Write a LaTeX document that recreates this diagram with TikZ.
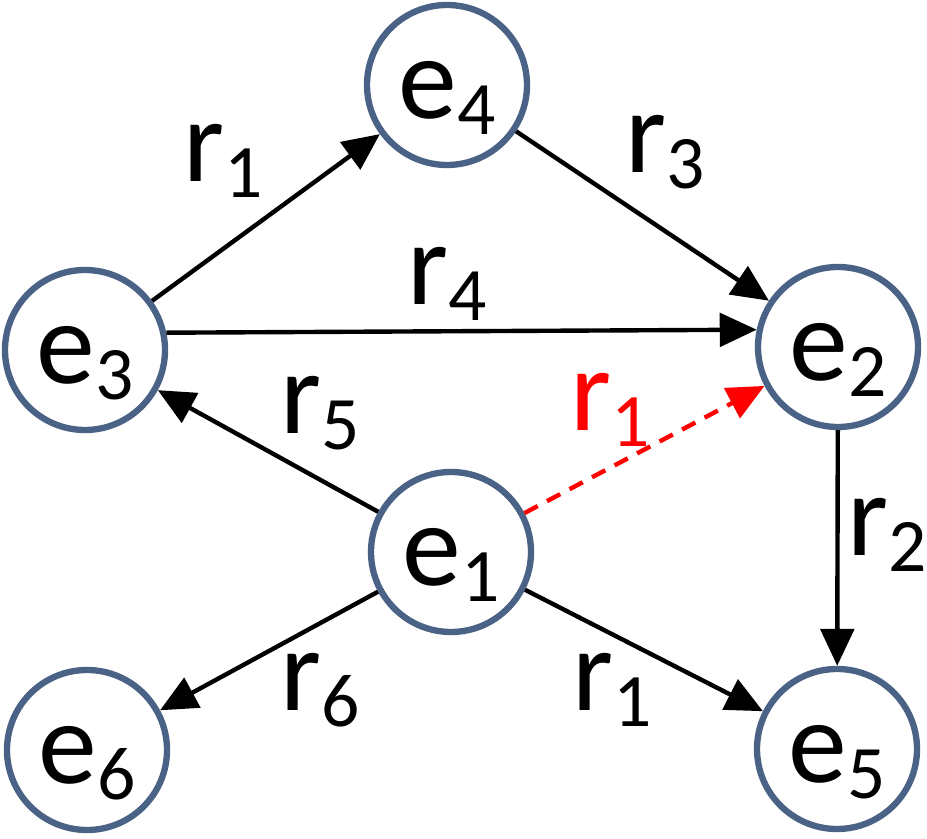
\documentclass[tikz,border=0pt]{standalone}
\usepackage{fontspec}
\setmainfont{Carlito}
\usepackage{xcolor}
\usetikzlibrary{arrows.meta}
\definecolor{entblue}{RGB}{74,98,134}
\definecolor{infred}{RGB}{255,0,0}
\newcommand{\idx}[2]{#1\raisebox{-9pt}{\fontsize{43}{43}\selectfont #2}}

\begin{document}
\begin{tikzpicture}[font=\fontsize{67}{67}\selectfont, >={Triangle[length=21pt,width=19pt]},
  ent/.style={circle, draw=entblue, line width=3.6pt, fill=white, minimum size=3.2cm, inner sep=0pt,
              text height=1.66cm, text depth=0.32cm},
  rel/.style={inner sep=0pt},
  edge/.style={->, line width=2.5pt, black},
  infer/.style={->, line width=2.5pt, infred, dash pattern=on 8.5pt off 6pt}]
\useasboundingbox (0,0) rectangle (18.54,16.78);
\node[ent] (e4) at (8.94,15.08) {\idx{e}{4}};
\node[ent] (e3) at (1.70,9.78) {\idx{e}{3}};
\node[ent] (e2) at (16.76,9.84) {\idx{e}{2}};
\node[ent] (e1) at (9.02,5.74) {\idx{e}{1}};
\node[ent] (e6) at (1.74,1.78) {\idx{e}{6}};
\node[ent] (e5) at (16.74,1.80) {\idx{e}{5}};
% known triples
\draw[edge] (e3) -- (e4);
\draw[edge] (e4) -- (e2);
\draw[edge] (e3.12) -- (e2.168);
\draw[edge] (e1) -- (e3);
\draw[edge] (e2) -- (e5);
\draw[edge] (e1) -- (e6);
\draw[edge] (e1) -- (e5);
% missing triple
\draw[infer] (e1) -- (e2);
\node[rel] (la) at (4.46,13.56) {\idx{r}{1}};
\node[rel] (lb) at (13.30,13.74) {\idx{r}{3}};
\node[rel] (lc) at (8.94,11.10) {\idx{r}{4}};
\node[rel] (ld) at (6.40,8.52) {\idx{r}{5}};
\node[rel, text=infred] (le) at (12.20,8.58) {\idx{r}{1}};
\node[rel] (lf) at (17.74,6.08) {\idx{r}{2}};
\node[rel] (lg) at (6.40,2.98) {\idx{r}{6}};
\node[rel] (lh) at (12.24,2.98) {\idx{r}{1}};
\end{tikzpicture}
\end{document}
